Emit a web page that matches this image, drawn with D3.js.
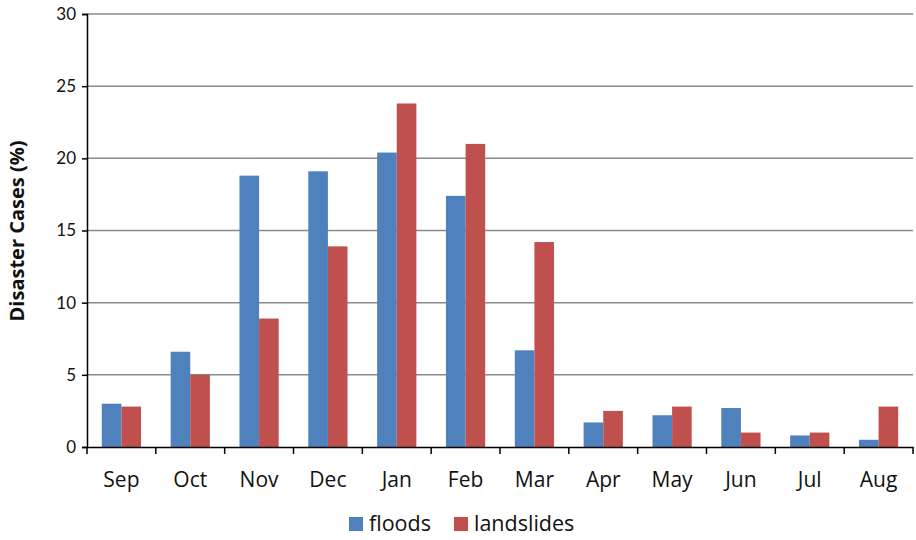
<!DOCTYPE html>
<html>
<head>
<meta charset="utf-8">
<script src="https://cdn.jsdelivr.net/npm/d3@7"></script>
<style>
  body { margin: 0; background: #fff; }
  svg { display: block; font-family: "Open Sans", Lato, sans-serif; }
</style>
</head>
<body>
<svg id="chart" width="916" height="540"></svg>
<script>
const months = ["Sep","Oct","Nov","Dec","Jan","Feb","Mar","Apr","May","Jun","Jul","Aug"];
const floods = [3.0, 6.6, 18.8, 19.1, 20.4, 17.4, 6.7, 1.7, 2.2, 2.7, 0.8, 0.5];
const landslides = [2.8, 5.0, 8.9, 13.9, 23.8, 21.0, 14.2, 2.5, 2.8, 1.0, 1.0, 2.8];
const seriesNames = ["floods", "landslides"];
const seriesColors = ["#4F81BD", "#C0504D"];
const yTicks = [0, 5, 10, 15, 20, 25, 30];
const yLabel = "Disaster Cases (%)";

const svg = d3.select("#chart");
const plotLeft = 87, plotRight = 913, plotTop = 14, plotBottom = 447;

const x0 = d3.scaleBand().domain(months).range([plotLeft, plotRight]).paddingInner(0.43).paddingOuter(0.215);
const x1 = d3.scaleBand().domain(seriesNames).range([0, x0.bandwidth()]);
const y = d3.scaleLinear().domain([0, 30]).range([plotBottom, plotTop]);
const color = d3.scaleOrdinal().domain(seriesNames).range(seriesColors);

// gridlines
svg.append("g").selectAll("line").data(yTicks.filter(d => d > 0)).join("line")
  .attr("x1", plotLeft).attr("x2", plotRight)
  .attr("y1", d => y(d)).attr("y2", d => y(d))
  .attr("stroke", "#8a8a8a").attr("stroke-width", 1.5);

// bars
const rows = months.map((m, i) => ({ month: m, values: [
  { key: "floods", value: floods[i] }, { key: "landslides", value: landslides[i] } ] }));
svg.append("g").selectAll("g").data(rows).join("g")
  .attr("transform", d => `translate(${x0(d.month)},0)`)
  .selectAll("rect").data(d => d.values).join("rect")
  .attr("x", d => x1(d.key))
  .attr("width", x1.bandwidth())
  .attr("y", d => y(d.value))
  .attr("height", d => y(0) - y(d.value))
  .attr("fill", d => color(d.key));

// y axis
const yAxis = svg.append("g").attr("transform", `translate(${plotLeft},0)`)
  .call(d3.axisLeft(y).tickValues(yTicks).tickSize(5).tickPadding(6));
yAxis.select(".domain").attr("stroke", "#000").attr("stroke-width", 1.5);
yAxis.selectAll(".tick line").attr("stroke", "#000").attr("stroke-width", 1.5);
yAxis.selectAll(".tick text").attr("font-size", 17).attr("fill", "#111")
  .attr("font-family", "Lato, sans-serif");

// x axis: line plus ticks at category boundaries
const xAxis = svg.append("g").attr("transform", `translate(0,${plotBottom})`)
  .call(d3.axisBottom(x0).tickSize(0).tickPadding(25));
xAxis.select(".domain").attr("stroke", "#000").attr("stroke-width", 1.5);
xAxis.selectAll(".tick text").attr("font-size", 21).attr("fill", "#111")
  .attr("font-family", "'Open Sans', sans-serif");
const step = x0.step();
const boundaries = d3.range(months.length + 1).map(i => plotLeft + i * step);
xAxis.append("g").selectAll("line").data(boundaries).join("line")
  .attr("x1", d => d).attr("x2", d => d).attr("y1", 0).attr("y2", 7)
  .attr("stroke", "#000").attr("stroke-width", 1.5);

// y label
svg.append("text")
  .attr("transform", "translate(24,231) rotate(-90)")
  .attr("text-anchor", "middle")
  .attr("font-family", "'Open Sans', sans-serif")
  .attr("font-size", 20).attr("font-weight", "bold").attr("fill", "#111")
  .text(yLabel);

// legend
const legendX = [349, 454];
const legend = svg.append("g").selectAll("g").data(seriesNames).join("g")
  .attr("transform", (d, i) => `translate(${legendX[i]},517)`);
legend.append("rect").attr("width", 14).attr("height", 14).attr("fill", d => color(d));
legend.append("text").attr("x", 20).attr("y", 14).attr("font-size", 21.5).attr("fill", "#111")
  .attr("font-family", "'Open Sans', sans-serif")
  .text(d => d);
</script>
</body>
</html>
